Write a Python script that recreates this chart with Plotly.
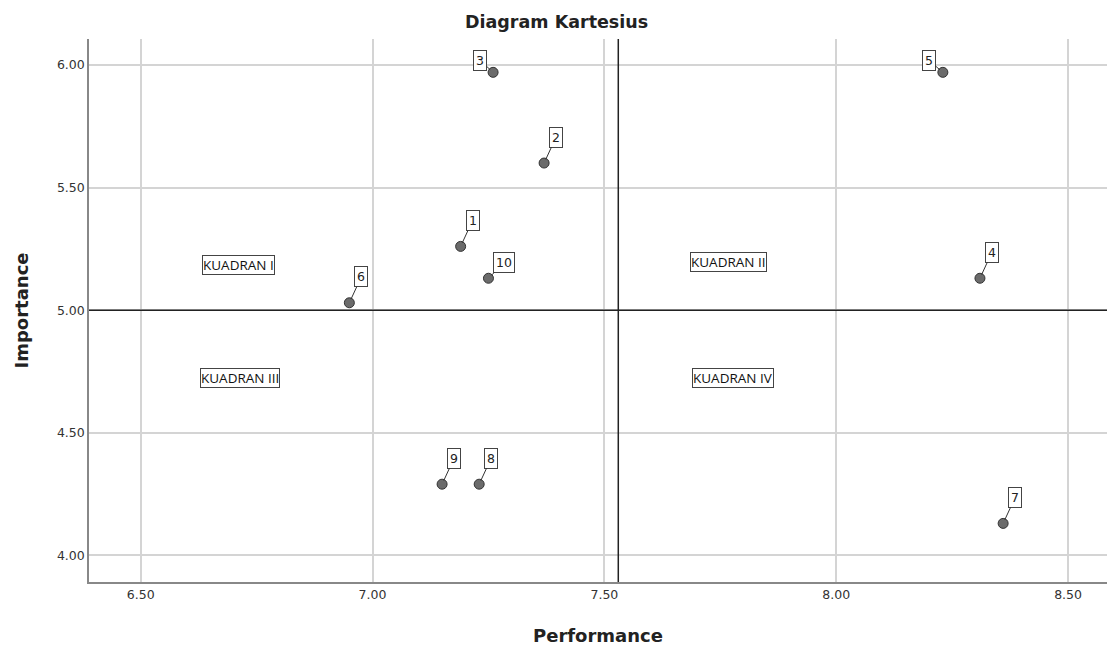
import plotly.graph_objects as go

# Data
item_labels = ["1", "2", "3", "4", "5", "6", "7", "8", "9", "10"]
performance = [7.19, 7.37, 7.26, 8.31, 8.23, 6.95, 8.36, 7.23, 7.15, 7.25]
importance = [5.26, 5.60, 5.97, 5.13, 5.97, 5.03, 4.13, 4.29, 4.29, 5.13]

quadrant_names = ["KUADRAN I", "KUADRAN II", "KUADRAN III", "KUADRAN IV"]
quadrant_x = [6.711, 7.767, 6.714, 7.778]
quadrant_y = [5.185, 5.197, 4.722, 4.724]

ref_x = 7.53
ref_y = 5.00

x_ticks = [6.5, 7.0, 7.5, 8.0, 8.5]
x_ticktext = ["6.50", "7.00", "7.50", "8.00", "8.50"]
y_ticks = [4.0, 4.5, 5.0, 5.5, 6.0]
y_ticktext = ["4.00", "4.50", "5.00", "5.50", "6.00"]

# label offsets (pixel styling)
label_offsets = {"3": (-13, -12), "5": (-14, -12), "10": (16, -16)}
default_offset = (12, -26)

font_family = "DejaVu Sans, sans-serif"
quad_font = "Open Sans, sans-serif"

W, H = 1107, 646
ML, MR, MT, MB = 89, 0, 39, 64

fig = go.Figure()

fig.add_trace(go.Scatter(
    x=performance, y=importance, mode="markers",
    marker=dict(size=10, color="#6b6b6b", line=dict(color="#333333", width=1)),
    showlegend=False, hoverinfo="x+y",
))

annotations = []
for lab, xv, yv in zip(item_labels, performance, importance):
    ax, ay = label_offsets.get(lab, default_offset)
    annotations.append(dict(
        x=xv, y=yv, xref="x", yref="y", text=lab,
        showarrow=True, arrowhead=0, arrowwidth=1, arrowcolor="#333333",
        ax=ax, ay=ay, standoff=4,
        font=dict(family=font_family, size=12.5, color="#222222"),
        bgcolor="white", bordercolor="#444444", borderwidth=1, borderpad=2,
    ))

for name, xv, yv in zip(quadrant_names, quadrant_x, quadrant_y):
    annotations.append(dict(
        x=xv, y=yv, xref="x", yref="y", text=name, showarrow=False,
        font=dict(family=quad_font, size=13.5, color="#111111"),
        bgcolor="white", bordercolor="#444444", borderwidth=1, borderpad=0,
    ))

plot_w = W - ML - MR
plot_h = H - MT - MB
annotations.append(dict(
    x=(556 - ML) / plot_w, y=1 + (MT - 22) / plot_h, xref="paper", yref="paper",
    text="<b>Diagram Kartesius</b>", showarrow=False,
    xanchor="center", yanchor="middle",
    font=dict(family=font_family, size=17.5, color="#222222"),
))

fig.add_shape(type="line", xref="x", yref="paper", x0=ref_x, x1=ref_x, y0=0, y1=1,
              line=dict(color="#222222", width=1.5))
fig.add_shape(type="line", xref="paper", yref="y", x0=0, x1=1, y0=ref_y, y1=ref_y,
              line=dict(color="#222222", width=1.5))

fig.update_layout(
    width=W, height=H,
    margin=dict(l=ML, r=MR, t=MT, b=MB),
    plot_bgcolor="white", paper_bgcolor="white",
    annotations=annotations,
    xaxis=dict(
        range=[6.3885, 8.584], tickvals=x_ticks, ticktext=x_ticktext,
        showgrid=True, gridcolor="#d4d4d4", gridwidth=1.5,
        showline=True, linecolor="#888888", linewidth=1.5,
        zeroline=False, ticks="", ticklen=0,
        tickfont=dict(family=font_family, size=12.5, color="#333333"),
        title=dict(text="<b>Performance</b>", font=dict(family=font_family, size=18, color="#222222"),
                   standoff=29),
    ),
    yaxis=dict(
        range=[3.891, 6.106], tickvals=y_ticks, ticktext=y_ticktext,
        showgrid=True, gridcolor="#d4d4d4", gridwidth=1.5,
        showline=True, linecolor="#888888", linewidth=1.5,
        zeroline=False, ticks="", ticklen=0,
        tickfont=dict(family=font_family, size=12.5, color="#333333"),
        title=dict(text="<b>Importance</b>", font=dict(family=font_family, size=18, color="#222222"),
                   standoff=24),
    ),
)

fig.write_html("out.html", config={"displayModeBar": False},
               post_script="document.body.style.margin='0';document.body.style.overflow='hidden';")
